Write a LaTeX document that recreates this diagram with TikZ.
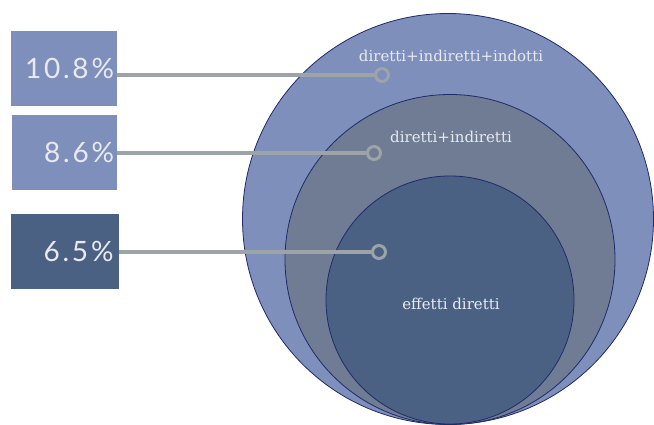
\documentclass[tikz,border=0pt]{standalone}
\usepackage{fontspec}
\newfontfamily\numfont[LetterSpace=10]{Lato}
\newfontfamily\labfont{DejaVu Serif}
\definecolor{outerc}{HTML}{7F8FBB}
\definecolor{midc}{HTML}{6F7C93}
\definecolor{innerc}{HTML}{4A6184}
\definecolor{edgec}{HTML}{1F2A6B}
\definecolor{linec}{HTML}{9CA4A7}
\definecolor{txtc}{HTML}{E8EAF0}
\begin{document}
\begin{tikzpicture}[x=1pt,y=-1pt,
  ring/.style={circle,draw=edgec,line width=0.8pt,inner sep=0pt},
  pbox/.style={rectangle,inner sep=0pt,text width=#1,align=right,minimum height=75pt,
     font=\numfont\fontsize{28}{28}\selectfont,text=txtc},
  lab/.style={font=\labfont\fontsize{15}{15}\selectfont,text=txtc},
  conn/.style={draw=linec,line width=3.6pt},
  marker/.style={circle,draw=linec,line width=3pt,minimum size=13pt,inner sep=0pt}]
\useasboundingbox (0,0) rectangle (654,425);
\fill[white] (0,0) rectangle (654,425);
% rings
\node[ring,fill=outerc,minimum size=411pt] (outer) at (448,219) {};
\node[ring,fill=midc,minimum size=330pt] (mid) at (450,259.5) {};
\node[ring,fill=innerc,minimum size=248pt] (inner) at (450,300) {};
% labels
\node[lab] (l1) at (451,56) {diretti+indiretti+indotti};
\node[lab] (l2) at (451,137) {diretti+indiretti};
\node[lab] (l3) at (451,304) {effetti diretti};
% boxes
\node[pbox=100pt,fill=outerc,minimum width=106pt] (b1) at (64,68.5) {10.8\%};
\node[pbox=99pt,fill=outerc,minimum width=105pt] (b2) at (64.5,152.5) {8.6\%};
\node[pbox=97pt,fill=innerc,minimum width=108pt] (b3) at (65,251.5) {6.5\%};
% markers
\node[marker,fill=outerc] (m1) at (382,75) {};
\node[marker,fill=midc] (m2) at (374,153) {};
\node[marker,fill=innerc] (m3) at (379,252) {};
% connectors
\draw[conn] (b1.east |- m1) -- (m1.west);
\draw[conn] (b2.east |- m2) -- (m2.west);
\draw[conn] (b3.east |- m3) -- (m3.west);
\end{tikzpicture}
\end{document}
